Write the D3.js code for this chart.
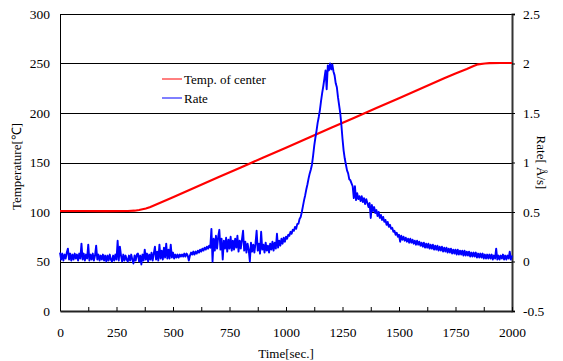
<!DOCTYPE html>
<html>
  <head>
    <meta charset="utf-8" />
    <title>Temperature and rate</title>
    <script src="https://cdn.jsdelivr.net/npm/d3@7/dist/d3.min.js"></script>
    <style>
      body { margin: 0; background: #fff; }
      svg, svg text { font-family: "Liberation Serif", "Times New Roman", serif !important; }
    </style>
  </head>
  <body>
    <div id="canvas"></div>
  </body>
  <script>
    // temperature of center
    const tempTimes = [0, 100, 200, 300, 330, 350, 380, 400, 500, 600, 700, 800, 900, 1000, 1100, 1200,
      1300, 1400, 1500, 1600, 1700, 1750, 1800, 1830, 1850, 1880, 1900, 1950, 2000];
    const tempValues = [101, 101, 100.8, 101, 101.3, 102, 103.5, 105, 115, 125, 135, 145, 155, 165, 175, 185,
      195, 205, 215, 225, 235, 240, 244.5, 247.5, 249.2, 250, 250.3, 250.5, 250.5];

    // rate, one reading every 5 s (0 .. 2000 s)
    const rateStep = 5;
    const rateValues = [
      0.09, 0.02, 0.08, 0.01, 0.07, 0.03, 0.09, 0.13, 0.02, 0.08, 0.01, 0.07, 0.02, 0.08, 0.03, 0.07, 0.01, 0.08, 0.03, 0.18,
      0.02, 0.08, 0.01, 0.07, 0.03, 0.17, 0.01, 0.07, 0.02, 0.08, 0.01, 0.06, 0.16, 0.02, 0.07, 0.01, 0.06, 0.02, 0.07, 0.01,
      0.06, 0.00, 0.06, 0.01, 0.07, 0.02, 0.00, 0.06, 0.01, 0.07, 0.02, 0.21, 0.01, 0.15, 0.06, 0.00, 0.07, 0.01, 0.06, 0.02,
      0.00, 0.06, 0.01, 0.07, 0.02, -0.02, 0.06, 0.01, 0.07, 0.08, 0.00, 0.06, -0.03, 0.07, 0.01, 0.12, 0.02, 0.08, 0.00, 0.07,
      0.02, 0.09, 0.01, 0.08, 0.15, 0.02, 0.10, 0.01, 0.17, 0.03, 0.11, 0.02, 0.14, 0.04, 0.18, 0.03, 0.12, 0.03, 0.17, 0.04,
      0.09, 0.03, 0.07, 0.04, 0.07, 0.04, 0.07, 0.05, 0.07, 0.05, 0.08, 0.05, 0.08, 0.06, 0.01, 0.06, 0.09, 0.07, 0.10, 0.07,
      0.10, 0.08, 0.11, 0.09, 0.12, 0.10, 0.13, 0.11, 0.14, 0.12, 0.15, 0.13, 0.16, 0.14, 0.33, 0.00, 0.23, 0.11, 0.26, 0.13,
      0.25, 0.32, 0.12, 0.23, 0.02, 0.21, 0.13, 0.24, 0.10, 0.22, 0.13, 0.25, 0.11, 0.21, 0.12, 0.23, 0.14, 0.26, 0.10, 0.21,
      0.13, 0.22, 0.31, 0.11, 0.20, 0.09, 0.18, 0.12, 0.00, 0.19, 0.10, 0.17, 0.09, 0.18, 0.31, 0.11, 0.18, 0.08, 0.30, 0.12,
      0.17, 0.09, 0.19, 0.11, 0.16, 0.09, 0.18, 0.12, 0.20, 0.11, 0.19, 0.13, 0.28, 0.14, 0.21, 0.16, 0.23, 0.18, 0.24, 0.20,
      0.25, 0.23, 0.27, 0.26, 0.30, 0.28, 0.32, 0.31, 0.35, 0.33, 0.38, 0.38, 0.43, 0.45, 0.50, 0.56, 0.62, 0.67, 0.73, 0.78,
      0.84, 0.89, 0.93, 0.98, 1.07, 1.17, 1.25, 1.32, 1.40, 1.46, 1.53, 1.62, 1.70, 1.77, 1.85, 1.93, 1.74, 1.98, 1.93, 2.00,
      1.94, 1.99, 1.92, 1.88, 1.80, 1.76, 1.66, 1.58, 1.50, 1.38, 1.24, 1.12, 1.04, 0.98, 0.92, 0.89, 0.83, 0.82, 0.79, 0.76,
      0.64, 0.76, 0.62, 0.69, 0.63, 0.66, 0.61, 0.66, 0.60, 0.64, 0.58, 0.63, 0.59, 0.55, 0.59, 0.44, 0.57, 0.51, 0.55, 0.49,
      0.52, 0.46, 0.50, 0.44, 0.47, 0.42, 0.45, 0.40, 0.42, 0.37, 0.40, 0.35, 0.37, 0.33, 0.34, 0.30, 0.31, 0.27, 0.29, 0.25,
      0.27, 0.20, 0.26, 0.22, 0.25, 0.21, 0.24, 0.20, 0.23, 0.19, 0.23, 0.19, 0.22, 0.18, 0.21, 0.17, 0.21, 0.17, 0.20, 0.16,
      0.19, 0.15, 0.19, 0.14, 0.18, 0.14, 0.18, 0.13, 0.17, 0.13, 0.17, 0.12, 0.16, 0.12, 0.16, 0.11, 0.15, 0.11, 0.15, 0.10,
      0.14, 0.10, 0.14, 0.09, 0.13, 0.09, 0.13, 0.08, 0.12, 0.08, 0.12, 0.07, 0.12, 0.07, 0.11, 0.07, 0.11, 0.06, 0.11, 0.06,
      0.10, 0.06, 0.10, 0.05, 0.09, 0.05, 0.09, 0.05, 0.09, 0.04, 0.08, 0.04, 0.08, 0.04, 0.08, 0.03, 0.07, 0.03, 0.07, 0.03,
      0.07, 0.03, 0.07, 0.02, 0.06, 0.03, 0.13, 0.02, 0.06, 0.02, 0.06, 0.03, 0.07, 0.02, 0.06, 0.02, 0.06, 0.03, 0.10, 0.02,
      0.06
    ];

    const xTickLabels = [0, 250, 500, 750, 1000, 1250, 1500, 1750, 2000];
    const xMinorTicks = [0, 125, 250, 375, 500, 625, 750, 875, 1000, 1125, 1250, 1375, 1500, 1625, 1750, 1875, 2000];
    const tempTicks = [0, 50, 100, 150, 200, 250, 300];
    const rateTicks = [-0.5, 0, 0.5, 1, 1.5, 2, 2.5];

    const width = 563;
    const height = 361;
    const margin = { top: 14, right: 51, bottom: 50, left: 60 };
    const serif = '"Liberation Serif", "Times New Roman", serif';

    const svg = d3
      .select("#canvas")
      .append("svg")
      .attr("width", width)
      .attr("height", height)
      .attr("viewBox", [0, 0, width, height])
      .style("font-family", serif);

    const x = d3.scaleLinear().domain([0, 2000]).range([margin.left, width - margin.right]);
    const yT = d3.scaleLinear().domain([0, 300]).range([height - margin.bottom, margin.top]);
    const yR = d3.scaleLinear().domain([-0.5, 2.5]).range([height - margin.bottom, margin.top]);

    // grid lines
    svg
      .append("g")
      .attr("stroke", "#000")
      .attr("stroke-width", 1)
      .selectAll()
      .data(tempTicks.filter((d) => d > 0))
      .join("line")
      .attr("x1", x(0))
      .attr("x2", x(2000))
      .attr("y1", (d) => Math.round(yT(d)) + 0.5)
      .attr("y2", (d) => Math.round(yT(d)) + 0.5);

    // left axis
    const leftAxis = svg
      .append("g")
      .attr("transform", `translate(${x(0)},0)`)
      .call(d3.axisLeft(yT).tickValues(tempTicks).tickSize(0).tickPadding(10).tickFormat((d) => String(d)));
    leftAxis.select(".domain").attr("stroke", "#000");

    // right axis
    const rightAxis = svg
      .append("g")
      .attr("transform", `translate(${x(2000)},0)`)
      .call(d3.axisRight(yR).tickValues(rateTicks).tickSize(3).tickPadding(8).tickFormat((d) => String(d)));
    rightAxis.select(".domain").attr("stroke", "#333").attr("stroke-width", 2);

    // bottom axis with inward ticks
    const bottomAxis = svg
      .append("g")
      .attr("transform", `translate(0,${yT(0)})`)
      .call(d3.axisBottom(x).tickValues(xMinorTicks).tickSizeInner(-4).tickSizeOuter(0).tickPadding(16)
        .tickFormat((d) => (xTickLabels.includes(d) ? String(d) : "")));
    bottomAxis.select(".domain").attr("stroke", "#222").attr("stroke-width", 2);

    svg.selectAll("g").attr("font-family", serif);
    svg.selectAll(".tick text").style("font-family", serif).attr("font-size", 13.5).attr("fill", "#000");
    svg.selectAll(".tick line").attr("stroke", "#000");

    // temperature curve
    const tempLine = d3
      .line()
      .x((d, i) => x(tempTimes[i]))
      .y((d) => yT(d));
    svg
      .append("path")
      .datum(tempValues)
      .attr("fill", "none")
      .attr("stroke", "#ff0000")
      .attr("stroke-width", 2.2)
      .attr("d", tempLine);

    // rate curve
    const rateLine = d3
      .line()
      .x((d, i) => x(i * rateStep))
      .y((d) => yR(d));
    svg
      .append("path")
      .datum(rateValues)
      .attr("fill", "none")
      .attr("stroke", "#0000ff")
      .attr("stroke-width", 1.9)
      .attr("stroke-linejoin", "round")
      .attr("d", rateLine);

    // legend
    const legend = svg.append("g").attr("font-size", 13).style("font-family", serif);
    [["Temp. of center", "#ff0000", 79], ["Rate", "#0000ff", 98]].forEach(([name, c, ly]) => {
      legend.append("line").attr("x1", 162).attr("x2", 182).attr("y1", ly).attr("y2", ly).attr("stroke", c).attr("stroke-width", 1);
      legend.append("text").attr("x", 184).attr("y", ly).attr("dy", "0.35em").text(name);
    });

    // axis titles
    svg
      .append("text")
      .attr("font-size", 13)
      .attr("text-anchor", "middle")
      .attr("transform", `translate(21,${(margin.top + yT(0)) / 2 + 4}) rotate(-90)`)
      .text("Temperature[℃]");

    svg
      .append("text")
      .attr("font-size", 13)
      .attr("text-anchor", "middle")
      .attr("transform", `translate(537,${(margin.top + yT(0)) / 2}) rotate(90)`)
      .text("Rate[ Å/s]");

    svg
      .append("text")
      .attr("font-size", 13)
      .attr("text-anchor", "middle")
      .attr("x", (x(0) + x(2000)) / 2)
      .attr("y", 358)
      .text("Time[sec.]");
  </script>
</html>
